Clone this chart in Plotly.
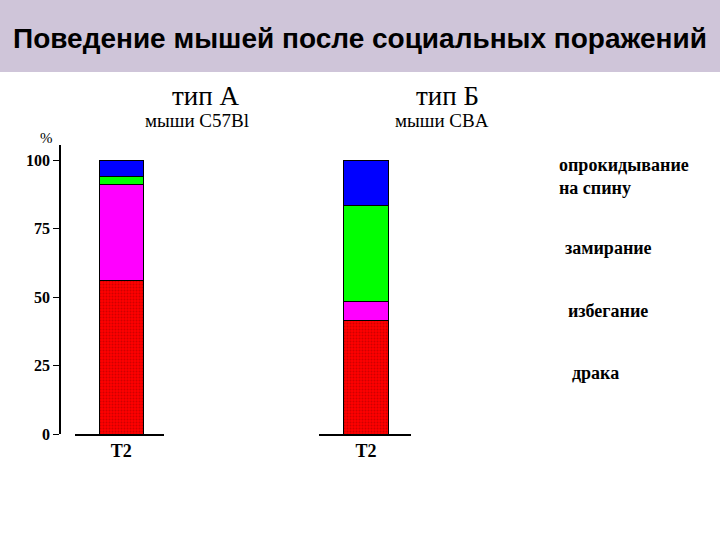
import plotly.graph_objects as go

# Data: behaviour after social defeats, % of time, one T2 bar per mouse type
categories = ["T2"]
behaviours = ["драка", "избегание", "замирание", "опрокидывание на спину"]
colors = ["#ff0000", "#ff00ff", "#00ff00", "#0000ff"]
type_a = [56, 35, 3, 6]      # тип А, мыши C57Bl
type_b = [41.5, 7, 35, 16.5]  # тип Б, мыши CBA
legend_text = ["драка", "избегание", "замирание", "опрокидывание<br>на спину"]
legend_y = [373, 311, 248, 176]
legend_x = [570, 566, 563, 557]

W, H = 720, 540
serif = "Liberation Serif, Times New Roman, serif"

fig = go.Figure()

for i, name in enumerate(behaviours):
    pattern = None
    if i == 0:
        # dotted texture of the red segment
        pattern = dict(shape=".", fillmode="overlay", bgcolor=colors[0],
                       fgcolor="#a00000", size=3, solidity=0.35)
    for vals, xa, ya in [(type_a, "x", "y"), (type_b, "x2", "y2")]:
        fig.add_trace(go.Bar(
            x=categories, y=[vals[i]], name=name, width=0.49,
            marker=dict(color=colors[i], line=dict(color="black", width=1),
                        pattern=pattern),
            xaxis=xa, yaxis=ya, showlegend=False,
        ))

ybot = (H - 434) / H
ytop = (H - 145) / H
yrange = [0, 105.5]
tickfont = dict(family=serif, size=16, color="black", weight="bold")

fig.update_layout(
    template="none",
    width=W, height=H, barmode="stack", showlegend=False,
    margin=dict(l=0, r=0, t=0, b=0, autoexpand=False),
    paper_bgcolor="white", plot_bgcolor="rgba(0,0,0,0)",
    xaxis=dict(domain=[75 / W, 164 / W], range=[-0.52, 0.48], showline=True,
               linecolor="black", linewidth=1.5, ticks="", showgrid=False,
               automargin=False, tickfont=dict(tickfont, size=18), anchor="y"),
    yaxis=dict(domain=[ybot, ytop], range=yrange, anchor="free", position=60 / W,
               showline=True, linecolor="black", linewidth=1.5, showgrid=False,
               zeroline=False, tickvals=[0, 25, 50, 75, 100], automargin=False,
               ticks="outside", ticklen=6, tickcolor="black", tickfont=tickfont),
    xaxis2=dict(domain=[319 / W, 411 / W], range=[-0.51, 0.49], showline=True,
                linecolor="black", linewidth=1.5, ticks="", showgrid=False,
                automargin=False, tickfont=dict(tickfont, size=18), anchor="y2"),
    yaxis2=dict(domain=[ybot, ytop], range=yrange, anchor="x2", visible=False,
                automargin=False),
)

# lavender title band
fig.add_shape(type="rect", xref="paper", yref="paper", x0=0, x1=1,
              y0=(H - 72) / H, y1=1, fillcolor="#cfc5d9", line_width=0, layer="below")

def px_annot(text, x, y, size, family=serif, bold=False, xanchor="center"):
    if bold:
        text = "<b>" + text + "</b>"
    fig.add_annotation(text=text, x=x / W, y=1 - y / H, xref="paper", yref="paper",
                       showarrow=False, xanchor=xanchor, yanchor="middle",
                       font=dict(family=family, size=size, color="black"), align="left")

px_annot("Поведение мышей после социальных поражений", 360, 38, 28,
         family="Liberation Sans, Arial, sans-serif", bold=True)
px_annot("тип А", 205, 96, 27)
px_annot("мыши C57Bl", 197, 120, 19)
px_annot("тип Б", 447, 96, 27)
px_annot("мыши CBA", 442, 120, 19)
px_annot("%", 46, 138, 15)

for t, x, y in zip(legend_text, legend_x, legend_y):
    px_annot(t, x, y, 18, bold=True, xanchor="left")

page_fix = (
    "document.documentElement.style.overflow='hidden';"
    "document.body.style.margin='0';"
    "document.body.style.overflow='hidden';"
)
fig.write_html("out.html", config={"displayModeBar": False}, post_script=page_fix)
